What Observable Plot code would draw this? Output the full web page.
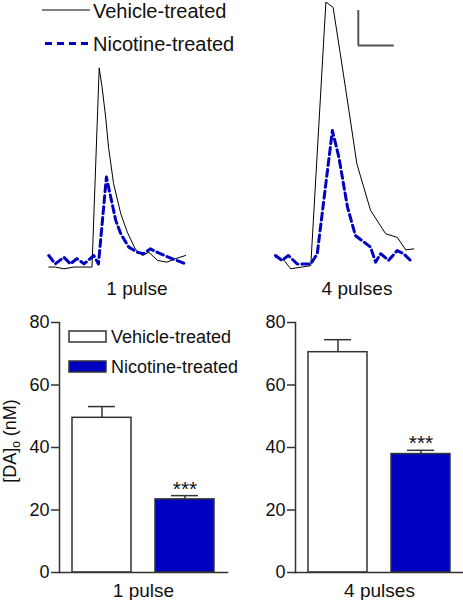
<!DOCTYPE html>
<html><head><meta charset="utf-8">
<script src="https://cdn.jsdelivr.net/npm/d3@7"></script>
<script src="https://cdn.jsdelivr.net/npm/@observablehq/plot@0.6"></script>
<style>
body{margin:0;background:#fff;font-family:"Liberation Sans",Arial,sans-serif;}
#root{position:relative;width:463px;height:600px;overflow:hidden;background:#fff;}
#root > *{position:absolute;}
</style></head><body><div id="root"></div>
<script>
// ---- Trace data (time in s, [DA]o in nM) ----
const vehicle1Time = [0, 0.09, 0.21, 0.35, 0.60, 0.70, 0.74, 0.79, 0.83, 0.90, 1.00, 1.09, 1.20, 1.30, 1.39, 1.51, 1.64, 1.76, 1.90];
const vehicle1Conc = [-1.3, -1.3, -1.8, -1.3, -1.3, 55.6, 50.1, 41.5, 32.9, 22.5, 13.9, 8.7, 3.9, 2.0, 2.9, 0.6, 0.1, 1.1, 2.0];
const nicotine1Time = [0, 0.09, 0.21, 0.30, 0.39, 0.49, 0.625, 0.69, 0.80, 0.86, 0.93, 1.00, 1.11, 1.23, 1.32, 1.41, 1.55, 1.71, 1.90];
const nicotine1Conc = [2.0, -0.4, 1.5, -0.4, 1.1, -0.4, 2.0, -0.4, 24.4, 18.7, 12.0, 8.2, 4.4, 2.9, 2.5, 3.9, 2.5, 1.1, -0.4];
const vehicle4Time = [0, 0.12, 0.21, 0.49, 0.70, 0.80, 0.90, 1.02, 1.13, 1.32, 1.53, 1.69, 1.81, 1.92];
const vehicle4Conc = [1.5, 0.6, -1.8, -0.9, 74.4, 72.9, 59.6, 43.4, 28.2, 14.9, 8.2, 7.2, 3.6, 3.9];
const nicotine4Time = [0, 0.09, 0.18, 0.30, 0.49, 0.58, 0.79, 0.88, 1.00, 1.11, 1.32, 1.39, 1.46, 1.57, 1.69, 1.78, 1.90];
const nicotine4Conc = [2.0, 0.6, 2.0, -0.4, -0.4, 2.5, 37.7, 30.1, 15.8, 7.7, 4.4, 0.1, 2.5, 0.6, 3.4, 2.5, 0.1];

// scale bar: 10 nM vertical, 0.5 s horizontal
const scaleBarT = [1.15, 1.65];
const scaleBarC = [62, 72];

// ---- Bar data ----
const groups = ["Vehicle-treated", "Nicotine-treated"];
const groupColors = ["#ffffff", "#0000c0"];
const pulse1Mean = [49.5, 23.4];
const pulse1Sem = [3.6, 1.2];
const pulse4Mean = [70.5, 37.9];
const pulse4Sem = [4.0, 1.2];
const significance = ["", "***"];
const yTicks = [0, 20, 40, 60, 80];
const panelLabels = ["1 pulse", "4 pulses"];

const FONT = '"Liberation Sans", Arial, sans-serif';
const BLUE = "#0000c0";
const root = document.getElementById("root");

const rows = (t, c) => t.map((ti, i) => ({t: ti, c: c[i]}));

function tracePlot(veh, nic, xRange, extra) {
  return Plot.plot({
    width: 231, height: 300, margin: 0,
    style: {fontFamily: FONT, overflow: "visible", background: "transparent"},
    x: {domain: [0, 2], range: xRange, axis: null},
    y: {domain: [0, 75], range: [262, -0.5], axis: null},
    marks: [
      Plot.line(veh, {x: "t", y: "c", stroke: "#000", strokeWidth: 1}),
      Plot.line(nic, {x: "t", y: "c", stroke: BLUE, strokeWidth: 3, strokeDasharray: "7,4"}),
      ...(extra || [])
    ]
  });
}

const t1 = tracePlot(rows(vehicle1Time, vehicle1Conc), rows(nicotine1Time, nicotine1Conc), [48.3, 192.3]);
t1.style.left = "0px"; t1.style.top = "0px";
root.appendChild(t1);

const t4 = tracePlot(rows(vehicle4Time, vehicle4Conc), rows(nicotine4Time, nicotine4Conc), [44, 188], [
  Plot.ruleX([scaleBarT[0]], {y1: scaleBarC[0], y2: scaleBarC[1], stroke: "#555", strokeWidth: 2}),
  Plot.ruleY([scaleBarC[0]], {x1: scaleBarT[0], x2: scaleBarT[1], stroke: "#555", strokeWidth: 2})
]);
t4.style.left = "231px"; t4.style.top = "0px";
root.appendChild(t4);

function barPlot(means, sems, label, width) {
  const data = groups.map((g, i) => ({group: g, mean: means[i], sem: sems[i], color: groupColors[i], sig: significance[i]}));
  return Plot.plot({
    width, height: 300,
    marginLeft: 59, marginRight: width - 59 - 168, marginTop: 22, marginBottom: 28,
    style: {fontFamily: FONT, overflow: "visible", background: "transparent", color: "#222"},
    x: {type: "band", domain: groups, paddingInner: 0.29, paddingOuter: 0.155, axis: null},
    y: {domain: [0, 80]},
    marks: [
      Plot.ruleX(data, {x: "group", y1: "mean", y2: d => d.mean + d.sem, stroke: "#333", strokeWidth: 1.5}),
      Plot.tickY(data, {x: "group", y: d => d.mean + d.sem, stroke: "#333", strokeWidth: 1.5, insetLeft: 16, insetRight: 16}),
      Plot.barY(data, {x: "group", y: "mean", fill: "color", stroke: "#333", strokeWidth: 1.5}),
      Plot.text(data, {x: "group", y: d => d.mean + d.sem, text: "sig", lineAnchor: "bottom", dy: 0, fontSize: 21, fill: "#111"}),
      Plot.axisY({ticks: yTicks, tickSize: 8, tickPadding: 2, fontSize: 18, label: null, stroke: "#333", strokeWidth: 1.5, fill: "#111"}),
      Plot.frame({anchor: "left", stroke: "#333", strokeWidth: 1.5}),
      Plot.frame({anchor: "bottom", stroke: "#333", strokeWidth: 1.5}),
      Plot.text([label], {frameAnchor: "bottom", text: d => d, lineAnchor: "top", dy: 10.5, fontSize: 19, fill: "#111"})
    ]
  });
}

const b1 = barPlot(pulse1Mean, pulse1Sem, panelLabels[0], 231);
b1.style.left = "0px"; b1.style.top = "300px";
root.appendChild(b1);
const b4 = barPlot(pulse4Mean, pulse4Sem, panelLabels[1], 227);
b4.style.left = "236px"; b4.style.top = "300px";
root.appendChild(b4);

// ---- Text overlays: legends, panel labels, y-axis label ----
const ov = d3.select(root).append("svg")
  .attr("width", 463).attr("height", 600)
  .style("left", "0px").style("top", "0px")
  .style("font-family", FONT).style("pointer-events", "none");

// top legend
ov.append("line").attr("x1", 42).attr("x2", 90).attr("y1", 10).attr("y2", 10).attr("stroke", "#000").attr("stroke-width", 1);
ov.append("text").attr("x", 93).attr("y", 17.5).attr("font-size", 20).attr("fill", "#111").text(groups[0]);
ov.append("line").attr("x1", 45).attr("x2", 88).attr("y1", 43.5).attr("y2", 43.5).attr("stroke", BLUE).attr("stroke-width", 3).attr("stroke-dasharray", "7,5");
ov.append("text").attr("x", 93).attr("y", 50.5).attr("font-size", 20).attr("fill", "#111").text(groups[1]);

// trace panel labels
ov.append("text").attr("x", 137).attr("y", 295).attr("text-anchor", "middle").attr("font-size", 19).attr("fill", "#111").text(panelLabels[0]);
ov.append("text").attr("x", 357).attr("y", 295).attr("text-anchor", "middle").attr("font-size", 19).attr("fill", "#111").text(panelLabels[1]);

// bottom legend
[0, 1].forEach(i => {
  const y = 331 + i * 30;
  ov.append("rect").attr("x", 69).attr("y", y).attr("width", 37).attr("height", 11)
    .attr("fill", groupColors[i]).attr("stroke", "#333").attr("stroke-width", 1.5);
  ov.append("text").attr("x", 111).attr("y", y + 12).attr("font-size", 18).attr("fill", "#111").text(groups[i]);
});

// y-axis label
const yl = ov.append("text").attr("transform", "translate(16,441) rotate(-90)")
  .attr("text-anchor", "middle").attr("font-size", 18).attr("fill", "#111");
yl.append("tspan").text("[DA]");
yl.append("tspan").attr("font-size", 12).attr("dy", 4).text("o");
yl.append("tspan").attr("dy", -4).text(" (nM)");
</script></body></html>
